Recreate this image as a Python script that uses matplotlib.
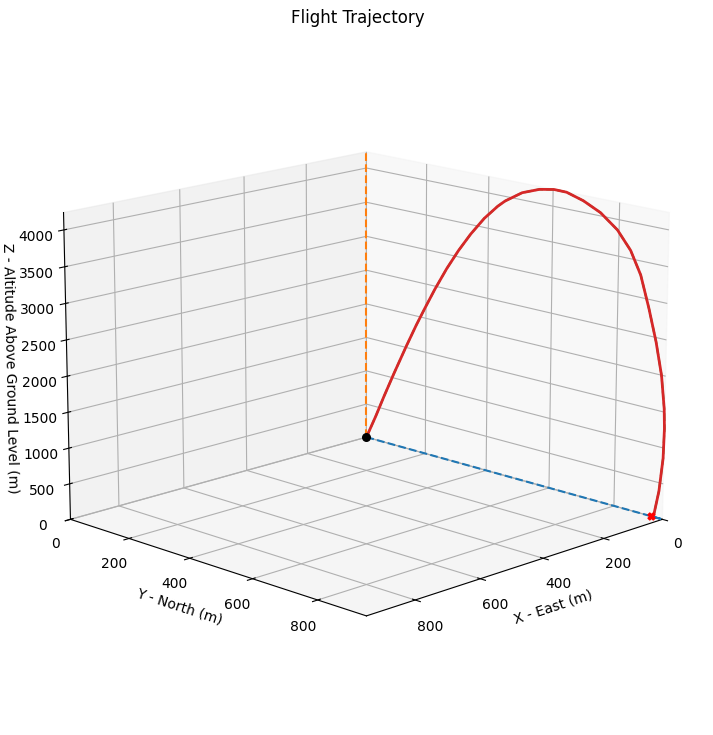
import matplotlib
matplotlib.use("Agg")
import matplotlib.pyplot as plt
import numpy as np

# Trajectory (metres)
north_y = [0, 32, 60, 94, 134, 168, 197, 229, 267, 305, 344, 387, 429,
           452, 505, 558, 603, 641, 692, 744, 795,
           815, 835, 866, 892, 915, 933, 943, 945, 943, 933, 920, 910]
alt_z = [0, 355, 686, 1071, 1508, 1865, 2150, 2455, 2790, 3090, 3365, 3630, 3840,
         3935, 4100, 4195, 4234, 4231, 4160, 4044, 3856,
         3735, 3614, 3308, 2877, 2440, 1998, 1546, 1270, 855, 383, 46, 0]
east_x = [0] * len(north_y)

x = np.array(east_x, dtype=float)
y = np.array(north_y, dtype=float)
z = np.array(alt_z, dtype=float)
i_apo = int(np.argmax(z))

min_z, max_z = z.min(), z.max()
min_x, min_y = x.min(), y.min()
min_xy = min(min_x, min_y)
max_xy = max(x.max(), y.max())

fig = plt.figure(figsize=(7.13, 7.35), dpi=100)
ax = fig.add_axes([0.04, 0.04, 0.9229, 0.8952], projection="3d")
ax.plot(x, y, zs=min_z, zdir="z", linestyle="--")
ax.plot(x[:i_apo + 1], z[:i_apo + 1], zs=min_y, zdir="y", linestyle="--")
ax.plot(y, z, zs=min_x, zdir="x", linestyle="--")
ax.plot(x, y, z, linewidth=2)
ax.scatter(0, 0, 0, color="black", s=30)
ax.scatter(x[-1], y[-1], 0, color="red", marker="X", s=25)
ax.set_xlabel("X - East (m)")
ax.set_ylabel("Y - North (m)")
ax.set_zlabel("Z - Altitude Above Ground Level (m)", labelpad=2.5)
ax.set_title("Flight Trajectory", pad=18)
ax.set_xlim(min_xy, max_xy)
ax.set_ylim(min_xy, max_xy)
ax.set_zlim(min_z, max_z)
ax.view_init(15, 45)
fig.savefig("out.png", dpi=100)
